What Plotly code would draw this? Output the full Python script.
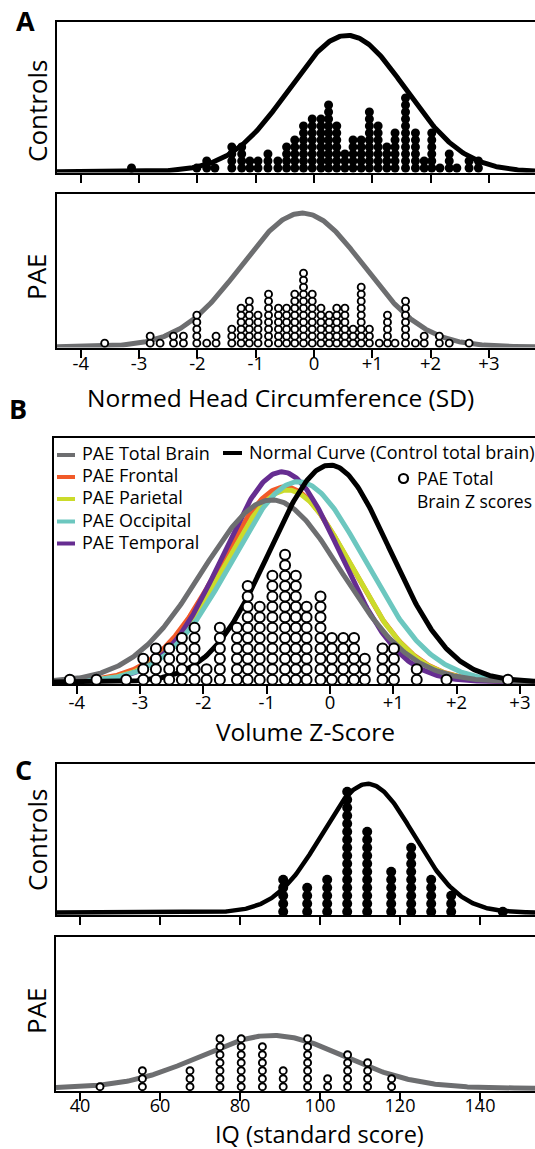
import numpy as np
import plotly.graph_objects as go

W, H = 535, 1149
FONT = "Open Sans"

# ---------------- data ----------------
# Panel A: normed head circumference (SD); dot columns (value, count)
a_ctrl_sd = [-3.13, -2.01, -1.84, -1.70, -1.41, -1.24, -1.10, -0.96, -0.79, -0.62, -0.47,
             -0.33, -0.18, -0.03, 0.12, 0.25, 0.39, 0.53, 0.67, 0.81, 0.95, 1.10, 1.25,
             1.39, 1.57, 1.74, 1.89, 2.02, 2.16, 2.32, 2.45, 2.66, 2.82]
a_ctrl_n = [1, 1, 2, 1, 4, 4, 2, 2, 3, 2, 4, 5, 7, 8, 8, 10, 7, 3, 5, 5, 9, 7, 4, 6, 11,
            6, 2, 6, 1, 3, 1, 2, 2]
a_pae_sd = [-3.59, -2.81, -2.64, -2.41, -2.24, -2.01, -1.84, -1.68, -1.41, -1.25, -1.11,
            -0.96, -0.78, -0.61, -0.47, -0.33, -0.18, -0.03, 0.12, 0.26, 0.39, 0.53, 0.67,
            0.81, 0.95, 1.12, 1.26, 1.39, 1.57, 1.74, 1.89, 2.15, 2.32, 2.66]
a_pae_n = [1, 2, 1, 2, 2, 5, 1, 2, 3, 6, 7, 5, 8, 6, 6, 8, 11, 8, 6, 5, 6, 6, 3, 9, 3, 1,
           5, 1, 7, 1, 2, 2, 1, 1]
a_ctrl_curve = dict(mu=0.57, sd=1.0, peak=19.5)
a_pae_curve = dict(mu=-0.20, sd=1.05, peak=19.1)
a_ticks = [-4, -3, -2, -1, 0, 1, 2, 3]
a_ticktext = ["-4", "-3", "-2", "-1", "0", "+1", "+2", "+3"]

# Panel B: volume z-scores
b_z = [-4.11, -3.69, -3.22, -2.95, -2.75, -2.54, -2.34, -2.14, -1.95, -1.74, -1.47, -1.30,
       -1.11, -0.91, -0.71, -0.54, -0.37, -0.15, 0.03, 0.21, 0.38, 0.55, 0.83, 1.01, 1.37,
       1.84, 2.81]
b_n = [1, 1, 1, 3, 4, 4, 5, 6, 2, 6, 6, 10, 8, 11, 13, 11, 8, 9, 5, 5, 5, 3, 4, 4, 2, 1, 1]
b_curve_names = ["PAE Frontal", "PAE Parietal", "PAE Temporal", "PAE Occipital",
                 "PAE Total Brain", "Normal Curve (Control total brain)"]
b_curve_mu = [-0.71, -0.67, -0.76, -0.50, -0.92, 0.0]
b_curve_sd = [1.02, 1.00, 0.93, 1.05, 1.10, 0.95]
b_curve_peak = [18.75, 18.45, 20.2, 19.25, 17.5, 20.85]
b_curve_col = ["#f15a29", "#cbdb2a", "#662d91", "#6cc7bf", "#6d6e70", "#000000"]
b_ticks = [-4, -3, -2, -1, 0, 1, 2, 3]
b_ticktext = ["-4", "-3", "-2", "-1", "0", "+1", "+2", "+3"]

# Panel C: IQ
c_ctrl_iq = [90.8, 96.8, 101.8, 106.8, 111.8, 117.8, 122.8, 127.8, 132.8, 145.7]
c_ctrl_n = [5, 4, 5, 16, 11, 6, 9, 5, 3, 1]
c_pae_iq = [45.0, 55.6, 67.5, 75.0, 80.3, 85.6, 90.8, 96.9, 101.9, 106.9, 111.9, 117.9]
c_pae_n = [1, 3, 3, 7, 7, 6, 3, 7, 2, 5, 4, 2]
c_ctrl_curve = dict(mu=111.9, sd=11.5, peak=16.1)
c_pae_curve = dict(mu=88.0, sd=18.0, peak=6.6)
c_ticks = [40, 60, 80, 100, 120, 140]


# ---------------- helpers ----------------
def xdom(l, r):
    return [l / W, min(r / W, 1.0)]


def ydom(t, b):
    return [1 - b / H, 1 - t / H]


def stack(vals, counts, off):
    xs, ys = [], []
    for v, n in zip(vals, counts):
        for k in range(n):
            xs.append(v)
            ys.append(k + off)
    return xs, ys


def normal(xr, mu, sd, peak, base):
    x = np.linspace(xr[0], xr[1], 400)
    return x, base + peak * np.exp(-0.5 * ((x - mu) / sd) ** 2)


fig = go.Figure()

# panel geometry (pixels) : (left, right, top, bottom)
P = {
    1: (57, 535, 22, 172.5),
    2: (57, 535, 193.5, 347.5),
    3: (53.5, 535, 437.5, 684),
    4: (57, 535, 764, 915),
    5: (56, 535, 936.5, 1091),
}
XR = {
    1: [(57 - 314) / 58.3, (535 - 314) / 58.3],
    2: [(57 - 314) / 58.3, (535 - 314) / 58.3],
    3: [(53.5 - 330) / 63.3, (535 - 330) / 63.3],
    4: [40 + (57 - 80) / 4, 40 + (535 - 80) / 4],
    5: [40 + (56 - 80) / 4, 40 + (535 - 80) / 4],
}
STEP = {1: 7.0, 2: 7.0, 3: 10.4, 4: 8.0, 5: 8.0}
YR = {k: [0, (P[k][3] - P[k][2]) / STEP[k]] for k in P}


def ax(k):
    return ("x" if k == 1 else f"x{k}"), ("y" if k == 1 else f"y{k}")


# ---- Panel A controls
xa, ya = ax(1)
x, y = normal(XR[1], base=0.1, **a_ctrl_curve)
fig.add_trace(go.Scatter(x=x, y=y, mode="lines", line=dict(color="black", width=5),
                         xaxis=xa, yaxis=ya, showlegend=False))
dx, dy = stack(a_ctrl_sd, a_ctrl_n, 0.65)
fig.add_trace(go.Scatter(x=dx, y=dy, mode="markers", cliponaxis=False,
                         marker=dict(size=9, color="black", line=dict(width=0)),
                         xaxis=xa, yaxis=ya, showlegend=False))

# ---- Panel A PAE
xa, ya = ax(2)
x, y = normal(XR[2], base=0.1, **a_pae_curve)
fig.add_trace(go.Scatter(x=x, y=y, mode="lines", line=dict(color="#6d6e70", width=5),
                         xaxis=xa, yaxis=ya, showlegend=False))
dx, dy = stack(a_pae_sd, a_pae_n, 0.62)
fig.add_trace(go.Scatter(x=dx, y=dy, mode="markers", cliponaxis=False,
                         marker=dict(size=7, color="white", line=dict(width=1.9, color="black")),
                         xaxis=xa, yaxis=ya, showlegend=False))

# ---- Panel B
xa, ya = ax(3)
for nm, mu, sd, pk, col in zip(b_curve_names, b_curve_mu, b_curve_sd, b_curve_peak, b_curve_col):
    x, y = normal(XR[3], mu, sd, pk, 0.2)
    fig.add_trace(go.Scatter(x=x, y=y, mode="lines", name=nm, line=dict(color=col, width=5),
                             xaxis=xa, yaxis=ya, showlegend=False))
dx, dy = stack(b_z, b_n, 0.42)
fig.add_trace(go.Scatter(x=dx, y=dy, mode="markers", cliponaxis=False, name="PAE Total Brain Z scores",
                         marker=dict(size=10, color="white", line=dict(width=2, color="black")),
                         xaxis=xa, yaxis=ya, showlegend=False))

# ---- Panel C controls
xa, ya = ax(4)
x, y = normal(XR[4], base=0.3, **c_ctrl_curve)
fig.add_trace(go.Scatter(x=x, y=y, mode="lines", line=dict(color="black", width=4.5),
                         xaxis=xa, yaxis=ya, showlegend=False))
dx, dy = stack(c_ctrl_iq, c_ctrl_n, 0.41)
fig.add_trace(go.Scatter(x=dx, y=dy, mode="markers", cliponaxis=False,
                         marker=dict(size=10, color="black", line=dict(width=0)),
                         xaxis=xa, yaxis=ya, showlegend=False))

# ---- Panel C PAE
xa, ya = ax(5)
x, y = normal(XR[5], base=0.35, **c_pae_curve)
fig.add_trace(go.Scatter(x=x, y=y, mode="lines", line=dict(color="#6d6e70", width=5),
                         xaxis=xa, yaxis=ya, showlegend=False))
dx, dy = stack(c_pae_iq, c_pae_n, 0.54)
fig.add_trace(go.Scatter(x=dx, y=dy, mode="markers", cliponaxis=False,
                         marker=dict(size=7, color="white", line=dict(width=1.9, color="black")),
                         xaxis=xa, yaxis=ya, showlegend=False))

# ---------------- axes ----------------
layout = dict(
    width=W, height=H, margin=dict(l=0, r=0, t=0, b=0),
    paper_bgcolor="white", plot_bgcolor="white",
    font=dict(family=FONT, color="black", size=17),
    showlegend=False,
)
tickinfo = {
    1: (a_ticks, None, False, 0, 18.5),
    2: (a_ticks, a_ticktext, True, -10, 18.5),
    3: (b_ticks, b_ticktext, True, -7, 18.5),
    4: (c_ticks, None, False, 0, 18.5),
    5: (c_ticks, [str(t) for t in c_ticks], True, -11, 18),
}
for k in P:
    l, r, t, b = P[k]
    xn = "xaxis" if k == 1 else f"xaxis{k}"
    yn = "yaxis" if k == 1 else f"yaxis{k}"
    yid = "y" if k == 1 else f"y{k}"
    xid = "x" if k == 1 else f"x{k}"
    tv, tt, show, stand, tfs = tickinfo[k]
    xa_d = dict(domain=xdom(l, r), range=XR[k], anchor=yid, showgrid=False, zeroline=False,
                showline=True, linecolor="black", linewidth=2, mirror=True,
                ticks="outside", ticklen=8, tickwidth=2, tickcolor="black",
                tickvals=tv, showticklabels=show, tickfont=dict(size=tfs, family=FONT),
                ticklabelstandoff=stand)
    if tt is not None:
        xa_d["ticktext"] = tt
    layout[xn] = xa_d
    layout[yn] = dict(domain=ydom(t, b), range=YR[k], anchor=xid, showgrid=False,
                      zeroline=False, showline=True, linecolor="black", linewidth=2,
                      ticks="", showticklabels=False)

# ---------------- text ----------------
ann = []


def A(text, px, py, size, xanchor="center", yanchor="middle", bold=False, angle=0, align="left"):
    ann.append(dict(text=f"<b>{text}</b>" if bold else text, x=px / W, y=1 - py / H,
                    xref="paper", yref="paper", showarrow=False, xanchor=xanchor,
                    yanchor=yanchor, textangle=angle, align=align,
                    font=dict(size=size, family=FONT, color="black")))


A("A", 25, 20, 27, bold=True)
A("B", 18, 408, 27, bold=True)
A("C", 24, 769, 27, bold=True)
A("Controls", 37, 111, 26, angle=-90)
A("PAE", 36, 277, 26, angle=-90)
A("Controls", 37, 840, 26, angle=-90)
A("PAE", 36, 1011, 26, angle=-90)
A("Normed Head Circumference (SD)", 280, 397, 24.5)
A("Volume Z-Score", 305, 731, 24.5)
A("IQ (standard score)", 319, 1134, 23.5)

# legend of panel B (manual, inside the plot box)
leg_rows = ["PAE Total Brain", "PAE Frontal", "PAE Parietal", "PAE Occipital", "PAE Temporal"]
leg_cols = ["#6d6e70", "#f15a29", "#cbdb2a", "#6cc7bf", "#662d91"]
leg_y = [453, 475, 497, 519.5, 541.5]
shapes = []
for txt, col, yy in zip(leg_rows, leg_cols, leg_y):
    shapes.append(dict(type="line", xref="paper", yref="paper", x0=57 / W, x1=75 / W,
                       y0=1 - (yy + 2) / H, y1=1 - (yy + 2) / H, line=dict(color=col, width=4)))
    A(txt, 80, yy, 18, xanchor="left")
shapes.append(dict(type="line", xref="paper", yref="paper", x0=223 / W, x1=242 / W,
                   y0=1 - 453 / H, y1=1 - 453 / H, line=dict(color="black", width=4)))
A("Normal Curve (Control total brain)", 247, 452, 18, xanchor="left")
shapes.append(dict(type="circle", xref="paper", yref="paper", x0=399 / W, x1=408 / W,
                   y0=1 - 483 / H, y1=1 - 474 / H, line=dict(color="black", width=2.2),
                   fillcolor="white"))
A("PAE Total<br>Brain Z scores", 415, 489, 17.5, xanchor="left")

layout["annotations"] = ann
layout["shapes"] = shapes
fig.update_layout(**layout)
fig.write_html("out.html")
